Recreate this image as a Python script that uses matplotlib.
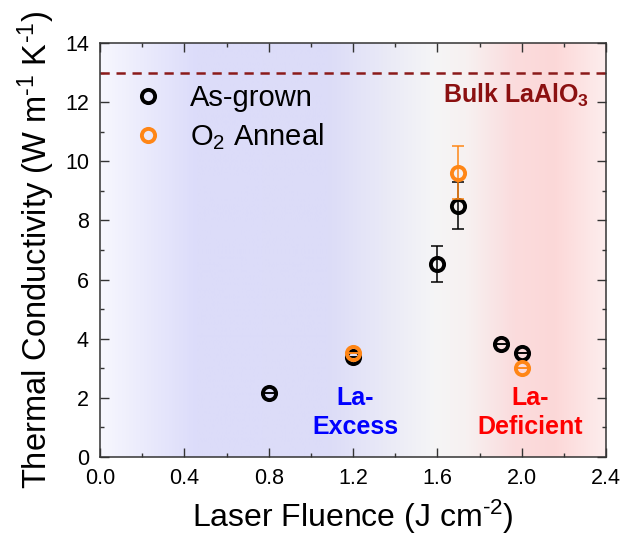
import numpy as np
import matplotlib
matplotlib.use("Agg")
import matplotlib.pyplot as plt
from matplotlib.colors import LinearSegmentedColormap
from matplotlib.ticker import MultipleLocator

plt.rcParams['font.family'] = ['Liberation Sans', 'DejaVu Sans']
plt.rcParams['mathtext.fontset'] = 'custom'
plt.rcParams['mathtext.rm'] = 'Liberation Sans'
plt.rcParams['mathtext.it'] = 'Liberation Sans:italic'
plt.rcParams['mathtext.bf'] = 'Liberation Sans:bold'

# ---- data ----
asgrown_x = [0.8, 1.2, 1.6, 1.7, 1.9, 2.0]
asgrown_y = [2.15, 3.38, 6.52, 8.5, 3.81, 3.53]
asgrown_err = [0.0, 0.0, 0.6, 0.8, 0.0, 0.0]

anneal_x = [1.2, 1.7, 2.0]
anneal_y = [3.51, 9.61, 3.02]
anneal_err = [0.0, 0.9, 0.0]

bulk_value = 13.0

x_ticks = [0.0, 0.4, 0.8, 1.2, 1.6, 2.0, 2.4]
y_ticks = [0, 2, 4, 6, 8, 10, 12, 14]

# background gradient stops (position along x-axis fraction, color)
bg_stops = [(0.0, '#f7f7fe'), (0.19, '#dcdcfa'), (0.45, '#dcdcf8'),
            (0.66, '#f5f5f6'), (0.725, '#f7f1f1'), (0.82, '#fbdcdd'),
            (0.90, '#fcd8d8'), (1.0, '#fdeded')]

fig = plt.figure(figsize=(6.23, 5.41), dpi=100)
ax = fig.add_axes([100/623, 84/541, 506/623, 414/541])

xmin, xmax = x_ticks[0], x_ticks[-1]
ymin, ymax = y_ticks[0], y_ticks[-1]

cmap = LinearSegmentedColormap.from_list('bg', bg_stops)
grad = np.linspace(0, 1, 512).reshape(1, -1)
ax.imshow(grad, cmap=cmap, extent=[xmin, xmax, ymin, ymax], aspect='auto',
          origin='lower', zorder=0, interpolation='bilinear')

# bulk line
ax.axhline(bulk_value, color='#8b1a1a', lw=1.8, linestyle=(0, (3.7, 2.7)), zorder=2)
ax.text(1.975, 11.97, r'Bulk LaAlO$_{\mathbf{3}}$', color='#8b1010', fontsize=18,
        fontweight='bold', ha='center', va='baseline', zorder=3)

black = '#000000'
orange = '#ff8616'

# error bars
ax.errorbar(asgrown_x, asgrown_y, yerr=asgrown_err, fmt='none', ecolor=black,
            elinewidth=1.1, capsize=4, capthick=1.1, zorder=3)
ax.errorbar(anneal_x, anneal_y, yerr=anneal_err, fmt='none', ecolor=orange,
            elinewidth=1.1, capsize=4, capthick=1.1, zorder=5)

l1, = ax.plot(asgrown_x, asgrown_y, 'o', ms=9.5, mfc='none', mec=black, mew=2.8,
              zorder=4, label='As-grown')
l2, = ax.plot(anneal_x, anneal_y, 'o', ms=9.5, mfc='none', mec=orange, mew=2.8,
              zorder=6, label=r'O$_2$ Anneal')

ax.legend(handles=[l1, l2], loc='upper left', bbox_to_anchor=(0.0508, 0.90),
          frameon=False, fontsize=21, handlelength=1.5, handletextpad=0.7,
          labelspacing=0.3, borderpad=0, borderaxespad=0)

# region labels
ax.text(1.21, 1.76, 'La-', color='#0000ff', fontsize=18, fontweight='bold',
        ha='center', va='baseline', zorder=3)
ax.text(1.21, 0.78, 'Excess', color='#0000ff', fontsize=18, fontweight='bold',
        ha='center', va='baseline', zorder=3)
ax.text(2.04, 1.76, 'La-', color='#ff0000', fontsize=18, fontweight='bold',
        ha='center', va='baseline', zorder=3)
ax.text(2.04, 0.78, 'Deficient', color='#ff0000', fontsize=18, fontweight='bold',
        ha='center', va='baseline', zorder=3)

ax.set_xlim(xmin, xmax)
ax.set_ylim(ymin, ymax)
ax.set_xticks(x_ticks)
ax.set_xticklabels([f'{v:.1f}' for v in x_ticks])
ax.set_yticks(y_ticks)
ax.set_yticklabels([str(v) for v in y_ticks])
ax.xaxis.set_minor_locator(MultipleLocator(0.2))
ax.yaxis.set_minor_locator(MultipleLocator(1))
ax.tick_params(which='both', direction='in', top=True, right=True,
               colors='#333333', labelcolor='black', width=1.0, labelsize=15.5)
ax.tick_params(which='major', length=6.5)
ax.tick_params(which='minor', length=3)
ax.tick_params(axis='x', which='major', pad=8)
ax.tick_params(axis='y', which='major', pad=8)
for s in ax.spines.values():
    s.set_color('#333333')
    s.set_linewidth(1.1)

ax.set_xlabel(r'Laser Fluence (J cm$^{\text{-2}}$)', fontsize=23, labelpad=6)
ax.set_ylabel(r'Thermal Conductivity (W m$^{\text{-1}}$ K$^{\text{-1}}$)',
              fontsize=23.5, labelpad=6)

fig.savefig('out.png', dpi=100)
